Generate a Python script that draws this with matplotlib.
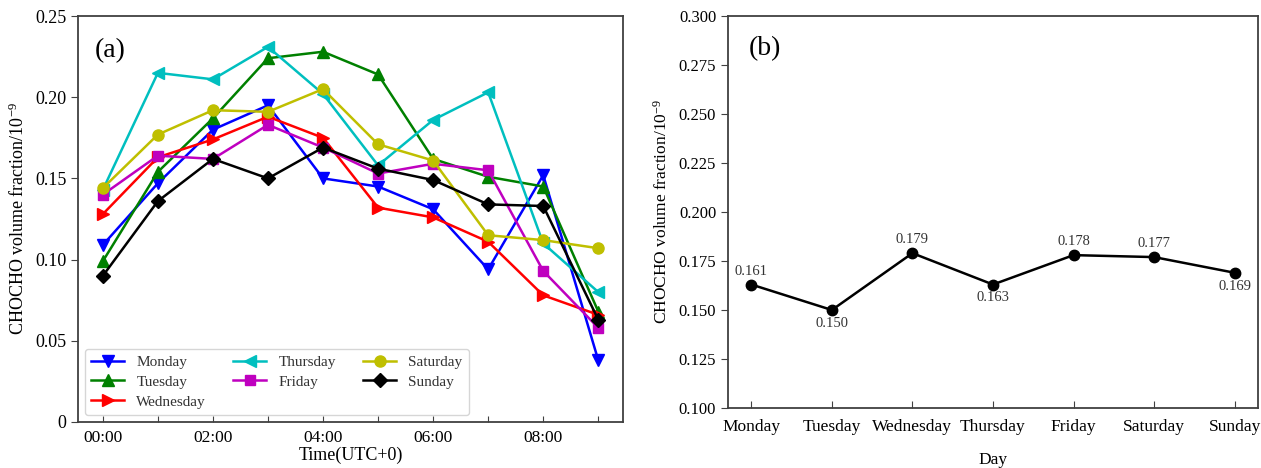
import matplotlib
matplotlib.use("Agg")
import matplotlib.pyplot as plt

plt.rcParams['font.family'] = ['Liberation Serif', 'DejaVu Serif']
plt.rcParams['mathtext.fontset'] = 'custom'
plt.rcParams['mathtext.rm'] = 'Liberation Serif'
plt.rcParams['mathtext.it'] = 'Liberation Serif:italic'

hours = list(range(10))
hour_labels = ['00:00', '02:00', '04:00', '06:00', '08:00']

monday    = [0.109, 0.147, 0.180, 0.195, 0.150, 0.145, 0.131, 0.094, 0.152, 0.038]
tuesday   = [0.099, 0.154, 0.187, 0.224, 0.228, 0.214, 0.162, 0.151, 0.145, 0.068]
wednesday = [0.128, 0.163, 0.174, 0.188, 0.175, 0.132, 0.126, 0.111, 0.078, 0.066]
thursday  = [0.143, 0.215, 0.211, 0.231, 0.202, 0.158, 0.186, 0.203, 0.110, 0.080]
friday    = [0.140, 0.164, 0.162, 0.183, 0.169, 0.153, 0.159, 0.155, 0.093, 0.058]
saturday  = [0.144, 0.177, 0.192, 0.191, 0.205, 0.171, 0.161, 0.115, 0.112, 0.107]
sunday    = [0.090, 0.136, 0.162, 0.150, 0.169, 0.156, 0.149, 0.134, 0.133, 0.063]

days = ['Monday', 'Tuesday', 'Wednesday', 'Thursday', 'Friday', 'Saturday', 'Sunday']
daily_mean = [0.163, 0.150, 0.179, 0.163, 0.178, 0.177, 0.169]
daily_labels = ['0.161', '0.150', '0.179', '0.163', '0.178', '0.177', '0.169']

fig = plt.figure(figsize=(12.61, 4.68), dpi=100)
ax1 = fig.add_axes([0.0619, 0.0983, 0.4322, 0.8675])
ax2 = fig.add_axes([0.5773, 0.1282, 0.4203, 0.8376])

series = [
    ('Monday', monday, 'b', 'v'),
    ('Tuesday', tuesday, 'g', '^'),
    ('Wednesday', wednesday, 'r', '>'),
    ('Thursday', thursday, 'c', '<'),
    ('Friday', friday, 'm', 's'),
    ('Saturday', saturday, 'y', 'o'),
    ('Sunday', sunday, 'k', 'D'),
]
for name, vals, col, mk in series:
    ms = 7 if mk in ('D', 's') else 8
    ax1.plot(hours, vals, color=col, marker=mk, markersize=ms, linewidth=1.8, label=name)

spine_col = '#404040'
for ax in (ax1, ax2):
    for s in ax.spines.values():
        s.set_color(spine_col)
        s.set_linewidth(1.3)

ax1.set_xlim(-0.45, 9.45)
ax1.set_ylim(0, 0.25)
ax1.set_xticks(hours)
ax1.set_xticklabels([hour_labels[i // 2] if i % 2 == 0 else '' for i in hours])
ax1.set_yticks([0, 0.05, 0.10, 0.15, 0.20, 0.25])
ax1.set_yticklabels(['0', '0.05', '0.10', '0.15', '0.20', '0.25'])
ax1.tick_params(axis='x', direction='in', length=4, labelsize=12.5, colors=spine_col, labelcolor='black', pad=6)
ax1.tick_params(axis='y', direction='out', length=5, labelsize=13, colors=spine_col, labelcolor='black')
ax1.set_xlabel('Time(UTC+0)', fontsize=13, labelpad=0)
ax1.set_ylabel(r'CHOCHO volume fraction/10$^{-9}$', fontsize=13, labelpad=5)
ax1.text(0.03, 0.945, '(a)', transform=ax1.transAxes, fontsize=20, va='top', ha='left')
leg = ax1.legend(loc='lower left', ncol=3, fontsize=11, frameon=True,
                 bbox_to_anchor=(0.013, 0.018), borderaxespad=0,
                 columnspacing=1.8, handlelength=2.15, handletextpad=0.8,
                 labelspacing=0.4, borderpad=0.4, fancybox=True)
leg.get_frame().set_edgecolor('#cccccc')
for t in leg.get_texts():
    t.set_color('#333333')

xpos = list(range(len(days)))
ax2.plot(xpos, daily_mean, color='k', marker='o', markersize=7.5, linewidth=1.8)
offsets = [0.0068, -0.0068, 0.0068, -0.0068, 0.0068, 0.0068, -0.0068]
for x, v, lab, dy in zip(xpos, daily_mean, daily_labels, offsets):
    ax2.text(x, v + dy, lab, ha='center', va='center', fontsize=10.5, color='#333333')
ax2.set_xlim(-0.29, 6.29)
ax2.set_ylim(0.100, 0.300)
ax2.set_xticks(xpos)
ax2.set_xticklabels(days)
ax2.set_yticks([0.100, 0.125, 0.150, 0.175, 0.200, 0.225, 0.250, 0.275, 0.300])
ax2.set_yticklabels(['0.100', '0.125', '0.150', '0.175', '0.200', '0.225', '0.250', '0.275', '0.300'])
ax2.tick_params(axis='x', direction='in', length=5, labelsize=12.5, colors=spine_col, labelcolor='black', pad=8)
ax2.tick_params(axis='y', direction='out', length=5, labelsize=12, colors=spine_col, labelcolor='black')
ax2.set_xlabel('Day', fontsize=12.5, labelpad=12)
ax2.set_ylabel(r'CHOCHO volume fraction/10$^{-9}$', fontsize=12.5, labelpad=6)
ax2.text(0.04, 0.95, '(b)', transform=ax2.transAxes, fontsize=20, va='top', ha='left')

fig.savefig('out.png', dpi=100)
